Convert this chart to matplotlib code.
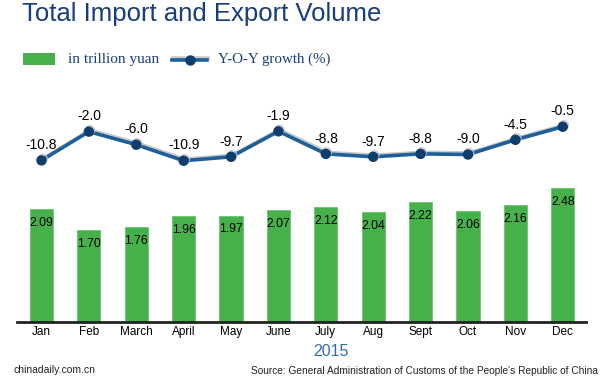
import matplotlib.pyplot as plt
import matplotlib.patheffects as pe
from matplotlib.patches import Rectangle
from matplotlib.lines import Line2D

months = ['Jan', 'Feb', 'March', 'April', 'May', 'June', 'July', 'Aug', 'Sept', 'Oct', 'Nov', 'Dec']
volume = [2.09, 1.70, 1.76, 1.96, 1.97, 2.07, 2.12, 2.04, 2.22, 2.06, 2.16, 2.48]
growth = [-10.8, -2.0, -6.0, -10.9, -9.7, -1.9, -8.8, -9.7, -8.8, -9.0, -4.5, -0.5]

green = '#46b14b'
navy = '#173d7a'
line_c = '#1d5f98'
mark_c = '#0f3e6c'

plt.rcParams['font.family'] = ['Liberation Sans', 'DejaVu Sans']

W, H = 600, 379
fig = plt.figure(figsize=(6, 3.79), dpi=100)

def fx(x):
    return x / W

def fy(y):
    return 1 - y / H

shadow = [pe.SimpleLineShadow(offset=(0.8, 1.1), shadow_color='#c4c4c4', alpha=0.9), pe.Normal()]

ax = fig.add_axes([fx(17), fy(321.5), fx(586) - fx(17), fy(100) - fy(321.5)])
x = list(range(len(months)))

ax.bar(x, volume, width=0.49, color=green, edgecolor='#6cc76f', linewidth=0.6, zorder=2)
ax.set_ylim(0, 4.117)
ax.set_xlim(-0.517, 11.49)
for i, v in enumerate(volume):
    ax.annotate(f'{v:.2f}', (i, v), xytext=(0, -10), textcoords='offset points',
                ha='center', va='center', fontsize=8.8, color='black', zorder=5)

for s in ['top', 'right', 'left']:
    ax.spines[s].set_visible(False)
ax.spines['bottom'].set_linewidth(2)
ax.spines['bottom'].set_color('#222222')
ax.set_yticks([])
ax.set_xticks(x)
ax.set_xticklabels(months, fontsize=8.5)
ax.tick_params(axis='x', length=0, pad=3)

ax2 = ax.twinx()
ax2.set_ylim(-60.07, 7.67)
ax2.set_yticks([])
for s in ax2.spines.values():
    s.set_visible(False)
ax2.plot(x, growth, color=line_c, lw=2.6, marker='o', markersize=6.5,
         markerfacecolor=mark_c, markeredgecolor=mark_c, zorder=3, path_effects=shadow)
for i, g in enumerate(growth):
    ax2.annotate(f'{g:.1f}', (i, g), xytext=(0, 11), textcoords='offset points',
                 ha='center', va='center', fontsize=10, color='black')

# title and legend
fig.text(fx(22), fy(14), 'Total Import and Export Volume', fontsize=18.5, color=navy,
         ha='left', va='center')
fig.add_artist(Rectangle((fx(23), fy(65)), fx(55) - fx(23), fy(53) - fy(65),
                         transform=fig.transFigure, facecolor=green, edgecolor='none'))
fig.text(fx(68), fy(59.5), 'in trillion yuan', fontsize=11, color=navy,
         family=['Liberation Serif'], ha='left', va='center')
fig.add_artist(Line2D([fx(172), fx(207)], [fy(59.5), fy(59.5)], transform=fig.transFigure,
                      color=line_c, lw=2.6, path_effects=shadow))
fig.add_artist(Line2D([fx(189.5)], [fy(59.5)], transform=fig.transFigure, marker='o',
                      markersize=6.5, color=mark_c))
fig.text(fx(218), fy(59.5), 'Y-O-Y growth (%)', fontsize=10.8, color=navy,
         family=['Liberation Serif'], ha='left', va='center')

# footer
fig.text(fx(331), fy(352), '2015', fontsize=11.5, color='#2f6db2', ha='center', va='center')
fig.text(fx(14), fy(370), 'chinadaily.com.cn', fontsize=7.5, color='#222222', ha='left', va='center')
fig.text(fx(598), fy(371), "Source: General Administration of Customs of the People's Republic of China",
         fontsize=7.3, color='#222222', ha='right', va='center')

fig.savefig('out.png', dpi=100)
